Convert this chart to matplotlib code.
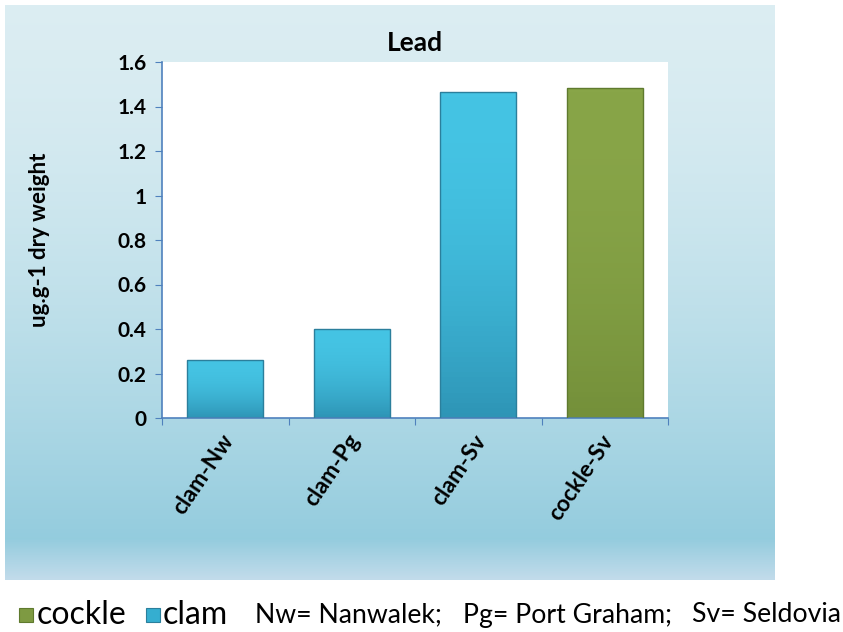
import matplotlib
matplotlib.use("Agg")
import matplotlib.pyplot as plt
import numpy as np
from matplotlib.patches import Rectangle

categories = ["clam-Nw", "clam-Pg", "clam-Sv", "cockle-Sv"]
values = [0.26, 0.40, 1.465, 1.485]
species = ["clam", "clam", "clam", "cockle"]
yticks = [0, 0.2, 0.4, 0.6, 0.8, 1, 1.2, 1.4, 1.6]
ytick_labels = ["0", "0.2", "0.4", "0.6", "0.8", "1", "1.2", "1.4", "1.6"]
site_notes = ["Nw= Nanwalek;", "Pg= Port Graham;", "Sv= Seldovia"]

colors = {"clam": ("#45c4e4", "#2e95b6", "#2b7f9c"),
          "cockle": ("#88a548", "#74903a", "#5f7a2e")}

plt.rcParams['font.family'] = ['Lato', 'DejaVu Sans']

fig = plt.figure(figsize=(8.43, 6.32), dpi=100)
fig.patch.set_facecolor("white")

# chart background with gradient
bg = fig.add_axes([5/843, 1-580/632, 770/843, 575/632])
bg.set_axis_off()
n = 256
t = np.linspace(0, 1, n)
top = np.array([0.86, 0.93, 0.95])
mid = np.array([0.58, 0.80, 0.87])
bot = np.array([0.76, 0.86, 0.92])
grad = np.zeros((n, 1, 3))
for i, tt in enumerate(t):
    if tt < 0.93:
        f = (tt / 0.93) ** 1.6
        grad[i, 0] = top * (1 - f) + mid * f
    else:
        f = (tt - 0.93) / 0.07
        grad[i, 0] = mid * (1 - f) + bot * f
bg.imshow(grad, aspect="auto", extent=[0, 1, 0, 1], origin="upper")
bg.set_xlim(0, 1); bg.set_ylim(0, 1)

ax = fig.add_axes([162/843, 1-418/632, 506/843, 356/632])
ax.set_facecolor("white")
x = np.arange(len(categories))
width = 0.6
for xi, v, s in zip(x, values, species):
    c_top, c_bot, c_edge = colors[s]
    r = Rectangle((xi - width/2, 0), width, v, facecolor="none", edgecolor=c_edge, linewidth=1.0, zorder=3)
    ax.add_patch(r)
    g = np.zeros((64, 1, 3))
    ct = np.array(matplotlib.colors.to_rgb(c_top)); cb = np.array(matplotlib.colors.to_rgb(c_bot))
    for i in range(64):
        f = (i / 63) ** 2
        g[i, 0] = ct * (1 - f) + cb * f
    im = ax.imshow(g, aspect="auto", extent=[xi - width/2, xi + width/2, 0, v], origin="upper", zorder=2)
    im.set_clip_path(r)

ax.set_xlim(-0.5, len(categories) - 0.5)
ax.set_ylim(0, 1.6)
ax.set_yticks(yticks)
ax.set_yticklabels(ytick_labels, fontsize=15, fontweight="bold")
ax.set_xticks(np.arange(len(categories) + 1) - 0.5, minor=False)
ax.set_xticklabels([])
ax.set_xticks(x - 0.04, minor=True)
ax.set_xticklabels(categories, minor=True, rotation=56, ha="right", va="top",
                   rotation_mode="anchor", fontsize=16.5, fontweight="bold")
ax.tick_params(axis="x", which="minor", length=0, pad=9)
ax.tick_params(axis="x", which="major", length=5, color="#4f81bd", direction="out")
ax.tick_params(axis="y", length=5, color="#4f81bd", direction="out", pad=6)
for side in ["top", "right"]:
    ax.spines[side].set_visible(False)
ax.spines["left"].set_color("#4f81bd")
ax.spines["bottom"].set_color("#4f81bd")
ax.spines["left"].set_linewidth(1.2)
ax.spines["bottom"].set_linewidth(1.2)
ax.set_ylabel("ug.g-1 dry weight", fontsize=16, fontweight="bold")
ax.yaxis.set_label_coords((50 - 162) / 506, 0.5)
ax.set_title("Lead", fontsize=19, fontweight="bold", pad=8)

# legend row
yc = 1 - 615/632
fig.patches.append(Rectangle((19/843, 1-622/632), 14/843, 14/632, transform=fig.transFigure,
                             facecolor="#7e9a42", edgecolor="#5f7a2e", linewidth=0.8))
fig.text(37/843, yc, "cockle", fontsize=23, va="center", ha="left")
fig.patches.append(Rectangle((146/843, 1-622/632), 14/843, 14/632, transform=fig.transFigure,
                             facecolor="#35aed0", edgecolor="#2b7f9c", linewidth=0.8))
fig.text(163/843, yc, "clam", fontsize=23, va="center", ha="left")
for xpos, note in zip([255, 463, 692], site_notes):
    fig.text(xpos/843, yc, note, fontsize=19.2, va="center", ha="left")

fig.savefig("out.png", dpi=100)
